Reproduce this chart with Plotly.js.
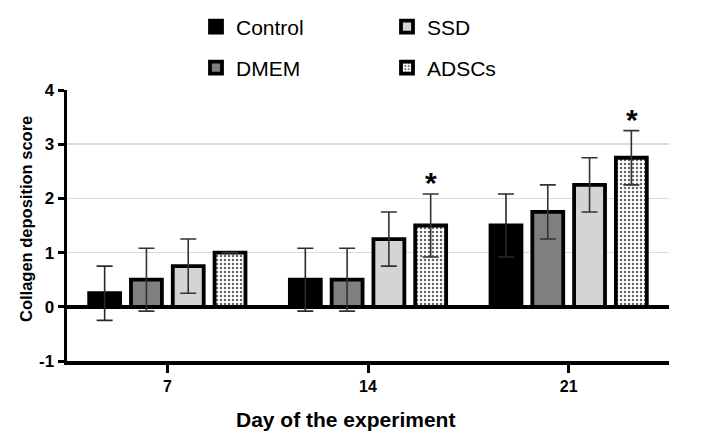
<!DOCTYPE html>
<html>
<head>
<meta charset="utf-8">
<script src="https://cdn.plot.ly/plotly-3.0.1.min.js"></script>
<style>html,body{margin:0;padding:0;background:#fff;}#chart{width:714px;height:446px;}</style>
</head>
<body>
<div id="chart"></div>
<script>
// ---- data ----
const days = ['7', '14', '21'];
const controlVals = [0.25, 0.5, 1.5];
const controlErr  = [0.5, 0.58, 0.58];
const dmemVals = [0.5, 0.5, 1.75];
const dmemErr  = [0.58, 0.58, 0.5];
const ssdVals = [0.75, 1.25, 2.25];
const ssdErr  = [0.5, 0.5, 0.5];
const adscVals = [1.0, 1.5, 2.75];
const adscErr  = [null, 0.58, 0.5];
const adscStars = ['', '*', '*'];
const yTicks = [-1, 0, 1, 2, 3, 4];
const yTickText = ['-1', '0', '1', '2', '3', '4'];

const errStyle = (arr, col) => ({type: 'data', array: arr, visible: true, color: col, thickness: 1.6, width: 8});
const lineStyle = {color: '#000', width: 3.8};
const FONT = 'Liberation Sans, Arial';

const traces = [
  {type: 'bar', name: 'Control', x: days, y: controlVals, legend: 'legend',
   marker: {color: '#000', line: lineStyle}, error_y: errStyle(controlErr, '#2a2a2a')},
  {type: 'bar', name: 'DMEM', x: days, y: dmemVals, legend: 'legend2',
   marker: {color: '#7f7f7f', line: lineStyle}, error_y: errStyle(dmemErr, '#333')},
  {type: 'bar', name: 'SSD', x: days, y: ssdVals, legend: 'legend3',
   marker: {color: '#d4d4d4', line: lineStyle}, error_y: errStyle(ssdErr, '#333')},
  {type: 'bar', name: 'ADSCs', x: days, y: adscVals, legend: 'legend4',
   marker: {color: '#fff', line: lineStyle,
            pattern: {shape: '.', fgcolor: '#666', bgcolor: '#fff', size: 4, solidity: 0.3}},
   error_y: errStyle(adscErr, '#333')}
];

// paper coords: plot spans x 67..669 px, y 90..361 px
const px2x = p => (p - 67) / 602;
const px2y = p => (361 - p) / 271;

const annotations = [];
days.forEach((d, i) => {
  if (adscStars[i]) {
    annotations.push({x: i, y: adscVals[i] + (adscErr[i] || 0), xref: 'x', yref: 'y',
      text: adscStars[i], showarrow: false, xshift: 63, yshift: -7, yanchor: 'bottom',
      font: {family: FONT, size: 30, color: '#000', weight: 'bold'}});
  }
});
// axis titles drawn as annotations to match their positions
annotations.push({xref: 'paper', yref: 'paper', x: px2x(345), y: px2y(419),
  xanchor: 'center', yanchor: 'middle', showarrow: false, text: 'Day of the experiment',
  font: {family: FONT, size: 21, color: '#000', weight: 'bold'}});
annotations.push({xref: 'paper', yref: 'paper', x: px2x(26), y: px2y(219), textangle: -90,
  xanchor: 'center', yanchor: 'middle', showarrow: false, text: 'Collagen deposition score',
  font: {family: FONT, size: 16.5, color: '#000', weight: 'bold'}});

const legFont = {family: FONT, size: 21, color: '#000'};
const leg = (x, y) => ({xref: 'paper', yref: 'paper', x: px2x(x), y: px2y(y), xanchor: 'left', yanchor: 'middle',
  font: legFont, bgcolor: 'rgba(0,0,0,0)', orientation: 'v'});

const layout = {
  width: 714, height: 446,
  margin: {l: 67, r: 45, t: 90, b: 85, autoexpand: false},
  paper_bgcolor: '#fff', plot_bgcolor: '#fff',
  barmode: 'group', bargap: 0.167, bargroupgap: 0.26,
  font: {family: FONT, color: '#000'},
  showlegend: true,
  legend: leg(196, 27),
  legend2: leg(196, 68),
  legend3: leg(387, 27),
  legend4: leg(387, 68),
  xaxis: {type: 'category', range: [-0.5, 2.5], showline: true, linecolor: '#000', linewidth: 3.5,
    ticks: 'outside', ticklen: 8, tickwidth: 3, tickcolor: '#000', showgrid: false,
    tickfont: {size: 16, weight: 'bold', family: FONT}},
  yaxis: {range: [-1, 4], tickvals: yTicks, ticktext: yTickText, showline: true, linecolor: '#000', linewidth: 3.5,
    ticks: 'outside', ticklen: 6, tickwidth: 3, tickcolor: '#000',
    showgrid: true, gridcolor: '#dcdcdc', gridwidth: 1.5,
    zeroline: true, zerolinecolor: '#000', zerolinewidth: 3.5,
    tickfont: {size: 17, weight: 'bold', family: FONT}},
  annotations: annotations
};

Plotly.newPlot('chart', traces, layout, {displayModeBar: false, staticPlot: true});
</script>
</body>
</html>
